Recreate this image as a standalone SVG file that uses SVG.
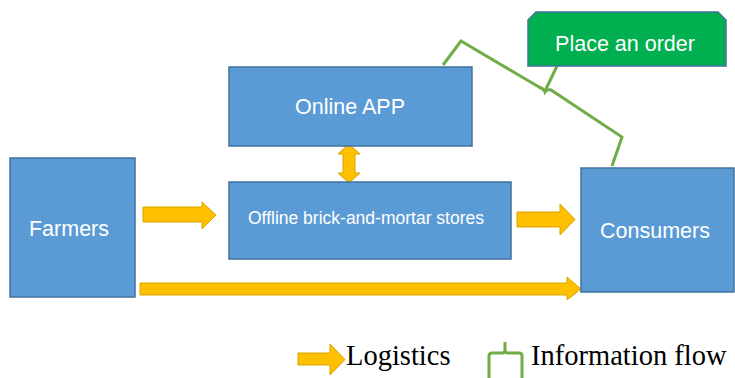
<svg xmlns="http://www.w3.org/2000/svg" width="735" height="378" viewBox="0 0 735 378">
<style>
.box{fill:#5B9BD5;stroke:#41719C;stroke-width:1.5}
.lbl{font-family:"Liberation Sans",Arial,sans-serif;fill:#fff;text-anchor:middle}
.arr{fill:#FFC000;stroke:#D9A300;stroke-width:1}
.info{fill:none;stroke:#70AD47;stroke-width:3;stroke-linejoin:miter}
.leg{font-family:"Liberation Serif","Times New Roman",serif;fill:#000;font-size:28.5px}
</style>
<rect width="735" height="378" fill="#fff"/>
<g id="connectors">
<polygon class="arr" points="143,207 202,207 202,202 216,215 202,229 202,222 143,222"/>
<polygon class="arr" points="517,212 560,212 560,204 575,219.5 560,235 560,227 517,227"/>
<polygon class="arr" points="140,283 567,283 567,277 581,289 567,300 567,295 140,295"/>
<polygon class="arr" points="349,144 360,154 355,154 355,173 360,173 349,183 338,173 343,173 343,154 338,154"/>
<path class="info" d="M443,65 L461,41 L539,87 Q544,89 545,92 Q547,89 551,90 L622,137 L612,166"/>
<path class="info" d="M545,91 L557,66"/>
</g>
<g id="farmers">
<rect class="box" x="10" y="158" width="125" height="139"/>
<text class="lbl" x="69" y="236" font-size="21.5">Farmers</text>
</g>
<g id="online-app">
<rect class="box" x="229" y="67" width="243" height="79"/>
<text class="lbl" x="350" y="114" font-size="21.5">Online APP</text>
</g>
<g id="offline-stores">
<rect class="box" x="229" y="182" width="282" height="77"/>
<text class="lbl" x="366" y="224" font-size="17.5">Offline brick-and-mortar stores</text>
</g>
<g id="consumers">
<rect class="box" x="581" y="168" width="153" height="124"/>
<text class="lbl" x="655" y="238" font-size="21.5">Consumers</text>
</g>
<g id="place-order">
<path d="M536,12 L718,12 L726,20 L726,66 L528,66 L528,20 Z" fill="#00B050" stroke="#41719C" stroke-width="1.5"/>
<text class="lbl" x="625" y="51" font-size="21.5">Place an order</text>
</g>
<g id="legend">
<polygon class="arr" points="298,353 330,353 330,344 345,359.5 330,375 330,365 298,365"/>
<text class="leg" x="346" y="365">Logistics</text>
<path class="info" d="M505,342 L505,350 Q505,353 502,353 L492,353 Q489,353 489,356 L489,378 M505,350 Q505,353 508,353 L519,353 Q522,353 522,356 L522,378"/>
<text class="leg" x="531" y="365">Information flow</text>
</g>
</svg>
